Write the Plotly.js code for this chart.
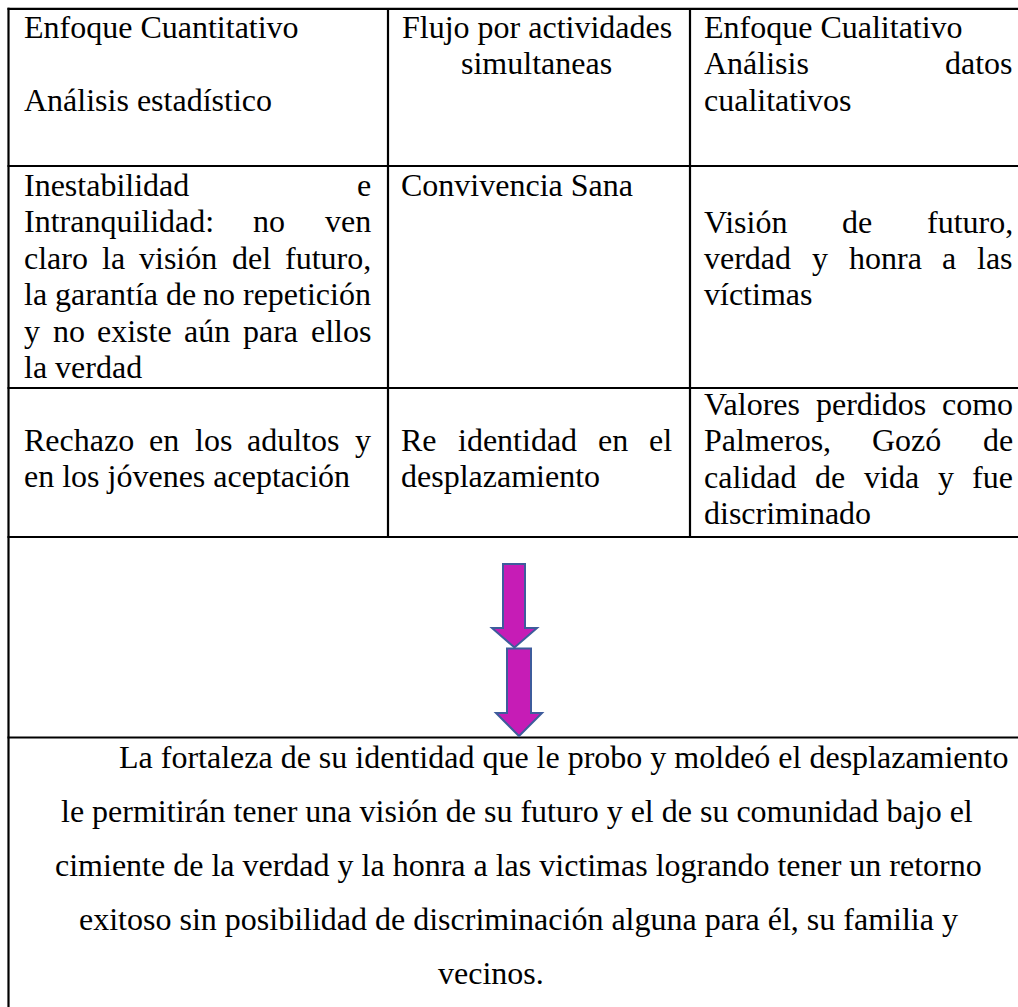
<!DOCTYPE html>
<html>
<head>
<meta charset="utf-8">
<script src="https://cdn.plot.ly/plotly-3.0.1.min.js"></script>
<style>
  html, body { margin: 0; padding: 0; background: #fff; }
  #chart { width: 1018px; height: 1007px; }
</style>
</head>
<body>
<div id="chart"></div>
<script>
// ---------- DATA: table text ----------
const headerCol1 = ["Enfoque Cuantitativo", "", "Análisis estadístico"];
const headerCol2 = ["Flujo por actividades", "simultaneas"];
const headerCol3 = ["Enfoque Cualitativo", "Análisis datos", "cualitativos"];
const row2Col1 = ["Inestabilidad e", "Intranquilidad: no ven", "claro la visión del futuro,", "la garantía de no repetición", "y no existe aún para ellos", "la verdad"];
const row2Col2 = ["Convivencia Sana"];
const row2Col3 = ["Visión de futuro,", "verdad y honra a las", "víctimas"];
const row3Col1 = ["Rechazo en los adultos y", "en los jóvenes aceptación"];
const row3Col2 = ["Re identidad en el", "desplazamiento"];
const row3Col3 = ["Valores perdidos como", "Palmeros, Gozó de", "calidad de vida y fue", "discriminado"];
const conclusion = [
  "La fortaleza de su identidad que le probo y moldeó el desplazamiento",
  "le permitirán tener una visión de su futuro y el de su comunidad bajo el",
  "cimiente de la verdad y la honra a las victimas logrando tener un retorno",
  "exitoso sin posibilidad de discriminación alguna para él, su familia y",
  "vecinos."
];

// ---------- LAYOUT / STYLE ----------
const W = 1018, H = 1007;
const FONT_FAMILY = "Liberation Serif, Times New Roman, serif";
const FONT_SIZE = 32;
const BASE_SHIFT = 11;      // baseline -> middle of text box
const STEP = 36.4;          // line spacing inside the table

const C1 = [24, 371], C2 = [401, 672], C3 = [704, 1013];

const cells = [
  {lines: headerCol1, box: C1, base: 38,  align: ["left", "left", "left"]},
  {lines: headerCol2, box: C2, base: 38,  align: ["center", "center"]},
  {lines: headerCol3, box: C3, base: 38,  align: ["left", "justify", "left"]},
  {lines: row2Col1,   box: C1, base: 196, align: ["justify", "justify", "justify", "justify", "justify", "left"]},
  {lines: row2Col2,   box: C2, base: 196, align: ["left"]},
  {lines: row2Col3,   box: C3, base: 232.5, align: ["justify", "justify", "left"]},
  {lines: row3Col1,   box: C1, base: 451, align: ["justify", "left"]},
  {lines: row3Col2,   box: C2, base: 451, align: ["justify", "left"]},
  {lines: row3Col3,   box: C3, base: 415, align: ["justify", "justify", "justify", "left"]}
];

// conclusion paragraph: anchor side and x for each line
const conclusionAnchor = [["right", 1008], ["right", 973], ["right", 982], ["right", 958], ["center", 491]];
const conclusionBase = 768, conclusionStep = 54;

// ---------- text measurement ----------
const cv = document.createElement("canvas");
const ctx = cv.getContext("2d");
ctx.font = FONT_SIZE + "px 'Liberation Serif'";
const tw = s => ctx.measureText(s).width;

const annotations = [];
function ann(text, x, y, xanchor) {
  annotations.push({
    text: text, x: x, y: y, xref: "x", yref: "y",
    xanchor: xanchor, yanchor: "middle", showarrow: false,
    borderpad: 0, borderwidth: 0,
    font: {family: FONT_FAMILY, size: FONT_SIZE, color: "#000"}
  });
}
function placeLine(text, mode, left, right, baseline) {
  if (!text) return;
  const y = baseline - BASE_SHIFT;
  if (mode === "left") ann(text, left, y, "left");
  else if (mode === "right") ann(text, right, y, "right");
  else if (mode === "center") ann(text, (left + right) / 2, y, "center");
  else {
    const words = text.split(" ");
    if (words.length < 2) { ann(text, left, y, "left"); return; }
    const widths = words.map(tw);
    const total = widths.reduce((a, b) => a + b, 0);
    const gap = (right - left - total) / (words.length - 1);
    let x = left;
    words.forEach((w, i) => {
      if (i === words.length - 1) ann(w, right, y, "right");
      else ann(w, x, y, "left");
      x += widths[i] + gap;
    });
  }
}
cells.forEach(c => {
  c.lines.forEach((t, i) => placeLine(t, c.align[i], c.box[0], c.box[1], c.base + i * STEP));
});
conclusion.forEach((t, i) => {
  const a = conclusionAnchor[i];
  ann(t, a[1], conclusionBase + i * conclusionStep - BASE_SHIFT, a[0]);
});

// ---------- table rules ----------
const LW = 2.2;
const shapes = [];
function hline(y, x0, x1) { shapes.push({type: "line", xref: "x", yref: "y", x0: x0, x1: x1, y0: y, y1: y, line: {color: "#000", width: LW}}); }
function vline(x, y0, y1) { shapes.push({type: "line", xref: "x", yref: "y", x0: x, x1: x, y0: y0, y1: y1, line: {color: "#000", width: LW}}); }
const colX = [8.5, 388, 690];
const rowY = [8.8, 166, 388, 537, 737.5];
rowY.forEach(y => hline(y, colX[0] - 1, W + 5));
vline(colX[0], rowY[0] - 1, H + 5);
vline(colX[1], rowY[0], rowY[3]);
vline(colX[2], rowY[0], rowY[3]);

// ---------- arrows ----------
const ARROW_FILL = "#C61CB6", ARROW_LINE = "#3E5C9C";
function arrowPath(sx0, sx1, top, headY, hx0, hx1, tipX, tipY) {
  return `M${sx0},${top} L${sx1},${top} L${sx1},${headY} L${hx1},${headY} L${tipX},${tipY} L${hx0},${headY} L${sx0},${headY} Z`;
}
shapes.push({type: "path", xref: "x", yref: "y", path: arrowPath(503, 525, 564, 628, 492, 537, 514.5, 647.5), fillcolor: ARROW_FILL, line: {color: ARROW_LINE, width: 2}});
shapes.push({type: "path", xref: "x", yref: "y", path: arrowPath(507, 531, 648.5, 713, 496, 542, 519, 736), fillcolor: ARROW_FILL, line: {color: ARROW_LINE, width: 2}});

const layout = {
  width: W, height: H,
  margin: {l: 0, r: 0, t: 0, b: 0, pad: 0},
  paper_bgcolor: "#fff", plot_bgcolor: "#fff",
  xaxis: {range: [0, W], visible: false, fixedrange: true},
  yaxis: {range: [H, 0], visible: false, fixedrange: true},
  showlegend: false,
  shapes: shapes,
  annotations: annotations
};
Plotly.newPlot("chart", [{x: [], y: [], type: "scatter", hoverinfo: "skip"}], layout, {staticPlot: true, displayModeBar: false});
</script>
</body>
</html>
